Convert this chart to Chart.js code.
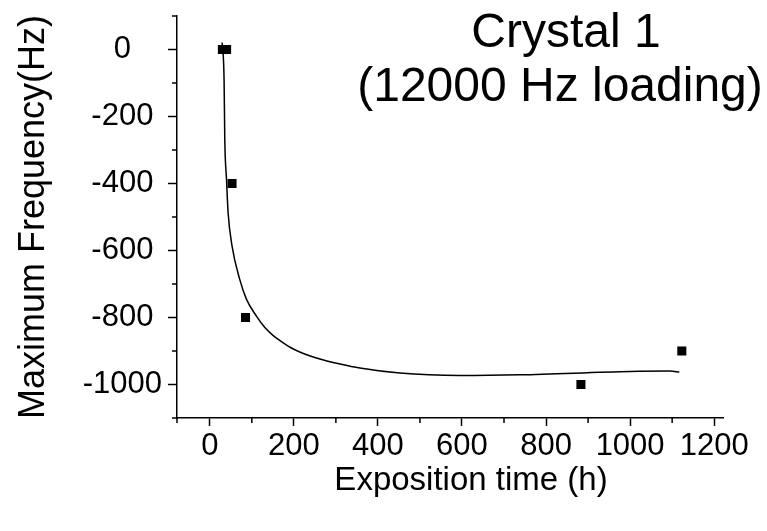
<!DOCTYPE html>
<html><head><meta charset="utf-8">
<script src="https://cdn.jsdelivr.net/npm/chart.js@4"></script>
<style>html,body{margin:0;padding:0;background:#fff}#wrap{width:767px;height:531px}</style>
</head><body><div id="wrap"><canvas id="c" width="767" height="531"></canvas></div>
<script>
// ---- data ----
const measuredTime = [30, 40, 53, 85, 883, 1123];
const measuredFreq = [0, 0, -400, -800, -1000, -900];
const fitTime = [29.3, 34, 35.7, 39.8, 43.6, 53.1, 71.4, 87.4, 111, 131, 151, 167, 190, 214, 262, 310, 357, 452, 595, 738, 1000, 1095, 1117];
const fitFreq = [21, -90, -269, -388, -487, -588, -687, -746, -796, -830, -854, -869, -888, -903, -924, -939, -951, -966, -973, -971, -961, -960, -963];
const xMajorTicks = [0, 200, 400, 600, 800, 1000, 1200];
const xMinorTicks = [100, 300, 500, 700, 900, 1100];
const yMajorTicks = [-1000, -800, -600, -400, -200, 0];
const yMinorTicks = [-1100, -900, -700, -500, -300, -100, 100];
const titleLines = ['Crystal 1', '(12000 Hz loading)'];
const xTitle = 'Exposition time (h)';
const yTitle = 'Maximum Frequency(Hz)';

const FONT = '"Liberation Sans", Arial, Helvetica, sans-serif';
Chart.defaults.font.family = FONT;
Chart.defaults.color = '#000';

const extras = {
  id: 'extras',
  afterDraw(chart) {
    const {ctx, scales: {x, y}} = chart;
    ctx.save();
    ctx.strokeStyle = '#000';
    ctx.lineWidth = 1.5;
    ctx.beginPath();
    yMinorTicks.forEach(v => { const py = y.getPixelForValue(v); ctx.moveTo(x.left - 5, py); ctx.lineTo(x.left, py); });
    xMinorTicks.forEach(v => { const px = x.getPixelForValue(v); ctx.moveTo(px, y.bottom); ctx.lineTo(px, y.bottom + 5); });
    ctx.moveTo(x.left, y.bottom); ctx.lineTo(x.left, y.bottom + 5);
    ctx.stroke();
    ctx.fillStyle = '#000';
    ctx.textAlign = 'center';
    ctx.textBaseline = 'alphabetic';
    ctx.font = '48px ' + FONT;
    ctx.fillText(titleLines[0], 566, 47);
    ctx.fillText(titleLines[1], 560, 101);
    ctx.font = '33px ' + FONT;
    ctx.fillText(xTitle, 471, 490);
    ctx.restore();
  }
};

const zeroPad = s => { s.paddingLeft = 0; s.paddingRight = 0; s.paddingTop = 0; s.paddingBottom = 0; };

new Chart(document.getElementById('c'), {
  type: 'scatter',
  data: {
    datasets: [
      {
        data: fitTime.map((t, i) => ({x: t, y: fitFreq[i]})),
        showLine: true, borderColor: '#000', borderWidth: 1.5,
        pointRadius: 0, cubicInterpolationMode: 'monotone', fill: false
      },
      {
        data: measuredTime.map((t, i) => ({x: t, y: measuredFreq[i]})),
        showLine: false, pointStyle: 'rect', pointRadius: 6.4,
        backgroundColor: '#000', borderWidth: 0
      }
    ]
  },
  options: {
    responsive: false, animation: false, devicePixelRatio: 1,
    layout: {padding: {top: 16, right: 44, left: 0, bottom: 0}},
    plugins: {legend: {display: false}, tooltip: {enabled: false}},
    scales: {
      x: {
        type: 'linear', position: 'bottom', min: -78, max: 1221,
        afterBuildTicks: s => { s.ticks = xMajorTicks.map(v => ({value: v})); },
        afterFit: s => { s.height = 113; zeroPad(s); },
        grid: {display: true, drawOnChartArea: false, drawTicks: true, tickLength: 8, tickColor: '#000', tickWidth: 1.5},
        border: {display: true, color: '#000', width: 1.5},
        ticks: {font: {size: 31}, padding: 2, maxRotation: 0, autoSkip: false, callback: v => String(v)},
        title: {display: false}
      },
      y: {
        type: 'linear', position: 'left', min: -1100, max: 100,
        afterBuildTicks: s => { s.ticks = yMajorTicks.map(v => ({value: v})); },
        afterFit: s => { s.width = 177; zeroPad(s); },
        grid: {display: true, drawOnChartArea: false, drawTicks: true, tickLength: 9, tickColor: '#000', tickWidth: 1.5},
        border: {display: true, color: '#000', width: 1.5},
        ticks: {font: {size: 31}, padding: 6, crossAlign: 'center', autoSkip: false, callback: v => String(v)},
        title: {display: true, text: yTitle, font: {size: 36}, padding: {top: 12, bottom: 0}}
      }
    }
  },
  plugins: [extras]
});
</script>
</body></html>
